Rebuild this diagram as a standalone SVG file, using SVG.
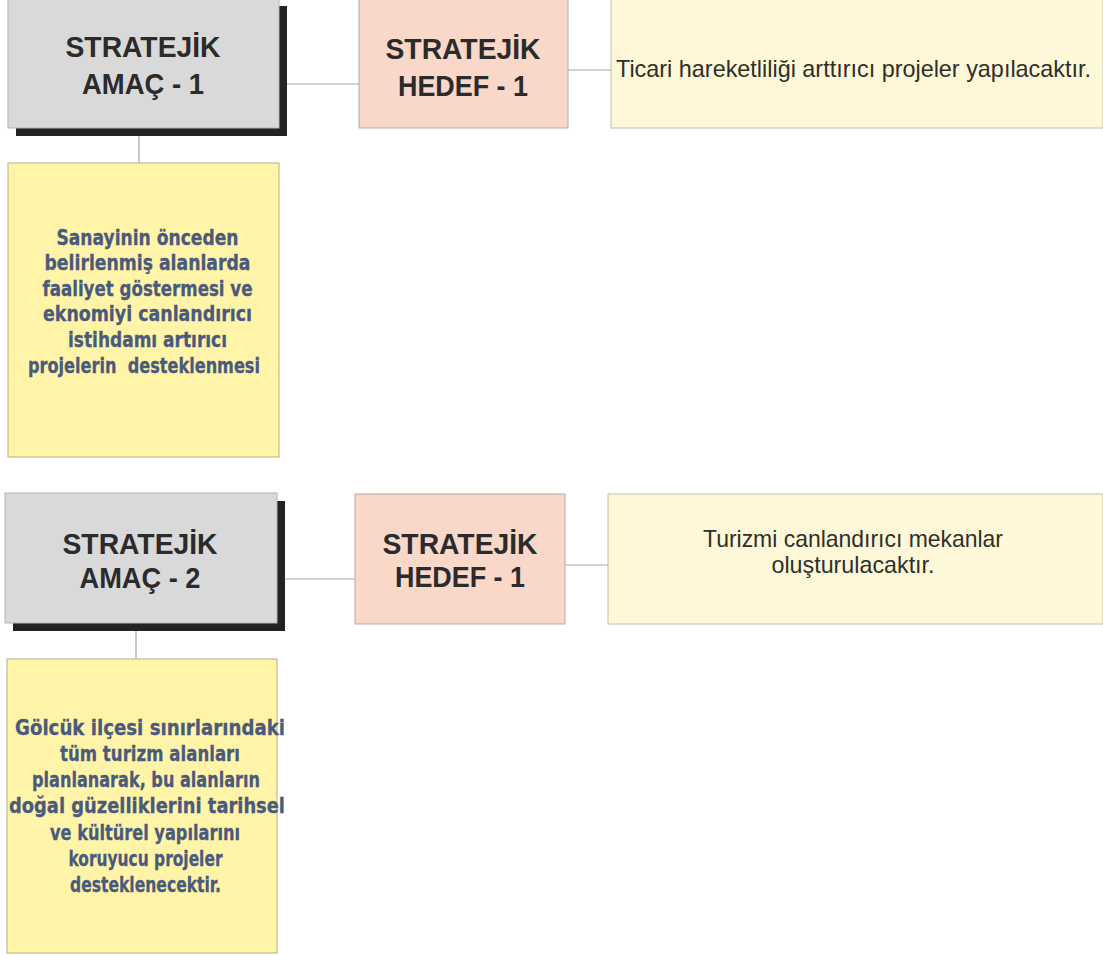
<svg xmlns="http://www.w3.org/2000/svg" width="1103" height="955" viewBox="0 0 1103 955">
<style>
.bg{fill:#ffffff}
.conn line{stroke:#a8a8a8;stroke-width:1.2}
.shadow{fill:#232323}
.amac{fill:#d9d9d9;stroke:#b4b4b4;stroke-width:1}
.hedef{fill:#f9d7c9;stroke:#b9aaa4;stroke-width:1}
.desc{fill:#fef8d8;stroke:#c4c0a8;stroke-width:1}
.goal{fill:#fff4a8;stroke:#b6ae86;stroke-width:1}
.title{font-family:"Liberation Sans",Arial,sans-serif;font-weight:bold;font-size:30px;fill:#2b2b2b;text-anchor:middle}
.plain{font-family:"Liberation Sans",Arial,sans-serif;font-size:24px;fill:#2f2f2a}
.cond{font-family:"Liberation Sans Narrow","DejaVu Sans Condensed","Liberation Sans",sans-serif;font-stretch:condensed;font-weight:bold;font-size:22px;fill:#4a5a7c;stroke:#4a5a7c;stroke-width:0.3;text-anchor:middle}
</style>
<rect class="bg" x="0" y="0" width="1103" height="955"/>
<g id="connectors" class="conn">
<line x1="279" y1="84" x2="359" y2="84"/>
<line x1="568" y1="70" x2="611" y2="70"/>
<line x1="139" y1="128" x2="139" y2="163"/>
<line x1="277" y1="579" x2="355" y2="579"/>
<line x1="565" y1="565" x2="608" y2="565"/>
<line x1="136" y1="623" x2="136" y2="659"/>
</g>
<g id="amac1">
<rect class="shadow" x="16" y="6" width="271" height="130"/>
<rect class="amac" x="8" y="-2" width="271" height="130"/>
<text class="title" x="143" y="57" textLength="155" lengthAdjust="spacingAndGlyphs">STRATEJİK</text>
<text class="title" x="143" y="94" textLength="122" lengthAdjust="spacingAndGlyphs">AMAÇ - 1</text>
</g>
<g id="hedef1">
<rect class="hedef" x="359" y="-2" width="209" height="130"/>
<text class="title" x="463" y="59" textLength="155" lengthAdjust="spacingAndGlyphs">STRATEJİK</text>
<text class="title" x="463" y="96" textLength="130" lengthAdjust="spacingAndGlyphs">HEDEF - 1</text>
</g>
<g id="desc1">
<rect class="desc" x="611" y="-2" width="492" height="130"/>
<text class="plain" x="616" y="77" textLength="475" lengthAdjust="spacingAndGlyphs">Ticari hareketliliği arttırıcı projeler yapılacaktır.</text>
</g>
<g id="goal1">
<rect class="goal" x="8" y="163" width="271" height="294"/>
<text class="cond" x="147.5" y="244.5" textLength="182" lengthAdjust="spacingAndGlyphs">Sanayinin önceden</text>
<text class="cond" x="147.5" y="270" textLength="206" lengthAdjust="spacingAndGlyphs">belirlenmiş alanlarda</text>
<text class="cond" x="147.5" y="295.7" textLength="210" lengthAdjust="spacingAndGlyphs">faaliyet göstermesi ve</text>
<text class="cond" x="147.5" y="321.3" textLength="209" lengthAdjust="spacingAndGlyphs">eknomiyi canlandırıcı</text>
<text class="cond" x="147.5" y="347" textLength="159" lengthAdjust="spacingAndGlyphs">istihdamı artırıcı</text>
<text class="cond" x="144" y="372.5" textLength="232" lengthAdjust="spacingAndGlyphs" xml:space="preserve">projelerin  desteklenmesi</text>
</g>
<g id="amac2">
<rect class="shadow" x="13" y="501" width="272" height="130"/>
<rect class="amac" x="5" y="493" width="272" height="130"/>
<text class="title" x="140" y="554" textLength="155" lengthAdjust="spacingAndGlyphs">STRATEJİK</text>
<text class="title" x="140" y="588" textLength="121" lengthAdjust="spacingAndGlyphs">AMAÇ - 2</text>
</g>
<g id="hedef2">
<rect class="hedef" x="355" y="494" width="210" height="130"/>
<text class="title" x="460" y="554" textLength="155" lengthAdjust="spacingAndGlyphs">STRATEJİK</text>
<text class="title" x="460" y="587" textLength="130" lengthAdjust="spacingAndGlyphs">HEDEF - 1</text>
</g>
<g id="desc2">
<rect class="desc" x="608" y="494" width="495" height="130"/>
<text class="plain" x="853" y="547" text-anchor="middle" textLength="300" lengthAdjust="spacingAndGlyphs">Turizmi canlandırıcı mekanlar</text>
<text class="plain" x="853" y="573" text-anchor="middle" textLength="163" lengthAdjust="spacingAndGlyphs">oluşturulacaktır.</text>
</g>
<g id="goal2">
<rect class="goal" x="7" y="659" width="270" height="294"/>
<text class="cond" x="150" y="734.5" textLength="270" lengthAdjust="spacingAndGlyphs">Gölcük ilçesi sınırlarındaki</text>
<text class="cond" x="150" y="760.8" textLength="180" lengthAdjust="spacingAndGlyphs">tüm turizm alanları</text>
<text class="cond" x="146" y="787" textLength="228" lengthAdjust="spacingAndGlyphs">planlanarak, bu alanların</text>
<text class="cond" x="147" y="813.4" textLength="276" lengthAdjust="spacingAndGlyphs">doğal güzelliklerini tarihsel</text>
<text class="cond" x="145" y="839.7" textLength="190" lengthAdjust="spacingAndGlyphs">ve kültürel yapılarını</text>
<text class="cond" x="145.5" y="866" textLength="154" lengthAdjust="spacingAndGlyphs">koruyucu projeler</text>
<text class="cond" x="145.5" y="892.3" textLength="151" lengthAdjust="spacingAndGlyphs">desteklenecektir.</text>
</g>
</svg>
